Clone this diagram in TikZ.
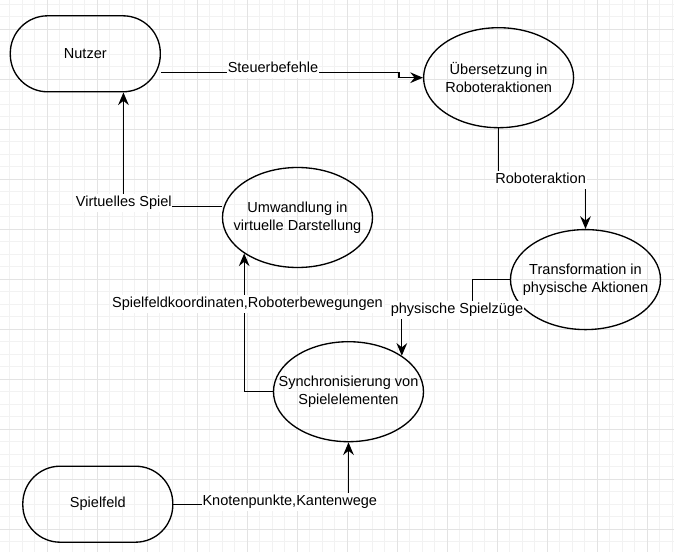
\documentclass[tikz,border=0pt]{standalone}
\usepackage{fontspec}
\setmainfont{Liberation Sans}
\usetikzlibrary{arrows.meta,shapes.geometric}

\begin{document}
\begin{tikzpicture}[x=0.75pt,y=-0.75pt,
    font=\fontsize{10.9pt}{13.5pt}\selectfont,
    line width=1pt,
    proc/.style={ellipse,draw,minimum width=112.5pt,minimum height=75pt,inner sep=0pt},
    term/.style={rectangle,draw,rounded corners=28pt,minimum width=112.5pt,minimum height=57pt},
    flow/.style={-{Stealth[length=9.5pt,width=8pt,inset=3.2pt]}},
    lbl/.style={fill=white,anchor=base,inner xsep=0.5pt,inner ysep=1.5pt,text depth=2.5pt}]

    \useasboundingbox (0,0) rectangle (674,552);
    \fill[white] (0,0) rectangle (674,552);
    \foreach \x in {-2.7,9.8,...,680} \draw[black!5,line width=0.75pt] (\x,0) -- (\x,552);
    \foreach \y in {4.3,16.8,...,560} \draw[black!5,line width=0.75pt] (0,\y) -- (674,\y);
    \foreach \x in {47.3,97.3,...,680} \draw[black!11,line width=0.75pt] (\x,0) -- (\x,552);
    \foreach \y in {29.3,79.3,...,560} \draw[black!11,line width=0.75pt] (0,\y) -- (674,\y);

      \node[term] (nutzer)    at (85.3,53.8)  {Nutzer};
      \node[term] (spielfeld) at (97.8,504.2) {Spielfeld};
      \node[proc,label={[align=center]center:Übersetzung in\\Roboteraktionen}] (uebers) at (498.6,77.7) {};
      \node[proc,label={[align=center]center:Umwandlung in\\virtuelle Darstellung}] (umwand) at (297.5,217.5) {};
      \node[proc,label={[align=center]center:Transformation in\\physische Aktionen}] (transf) at (585.5,279.6) {};
      \node[proc,label={[align=center]center:Synchronisierung von\\Spielelementen}] (sync) at (348.5,391.7) {};

      \draw[flow] ([yshift=-14.2pt]nutzer.east) -- ++(238,0) |- (uebers.west);
      \draw[flow] (uebers.south) -- ++(0,53.3) -| (transf.north);
      \draw[flow] (transf.west) -- ++(-37.6,0) -- ++(0,33) -| (sync.34.5);
      \draw[flow] (sync.west) -| (umwand.214.6);
      \draw[flow] ([yshift=8.1pt]umwand.west) -| ([xshift=28.6pt]nutzer.south);
      \draw[flow] (spielfeld.east) -| (sync.south);

      \node[lbl] (l1) at (273,72.7)    {Steuerbefehle};
      \node[lbl] (l2) at (540.6,183.5) {Roboteraktion};
      \node[lbl] (l3) at (457,313.5)   {physische Spielzüge};
      \node[lbl] (l4) at (247.5,307.5) {Spielfeldkoordinaten,Roboterbewegungen};
      \node[lbl] (l5) at (123.8,207)   {Virtuelles Spiel};
      \node[lbl] (l6) at (289.8,505.5) {Knotenpunkte,Kantenwege};
    \end{tikzpicture}
\end{document}
